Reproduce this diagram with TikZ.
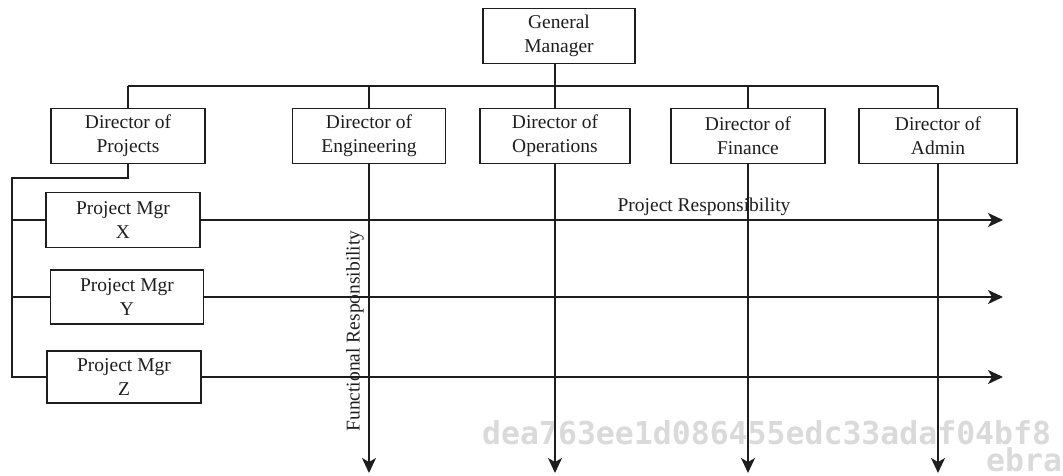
\documentclass[tikz,border=0pt]{standalone}
\usepackage{fontspec}
\setmainfont{Liberation Serif}
\newfontfamily\markfont{DejaVu Sans Mono Bold}
\usetikzlibrary{arrows.meta}
\definecolor{ink}{HTML}{1E1E1E}
\definecolor{faint}{HTML}{DADADA}
\tikzset{
  orgbox/.style={draw=ink, line width=1.9pt, fill=white, align=center,
    text=ink, font=\fontsize{19.5}{24}\selectfont, inner sep=2pt},
  link/.style={draw=ink, line width=1.9pt},
  flow/.style={draw=ink, line width=1.9pt, -{Stealth[length=15pt,width=14pt,inset=4pt]}},
  duty/.style={draw=ink, line width=1.5pt, -{Stealth[length=15pt,width=14pt,inset=4pt]}},
  caption/.style={text=ink, font=\fontsize{19.5}{24}\selectfont, inner sep=0pt},
  stamp/.style={anchor=base west, text=faint, inner sep=0pt,
    text height=23pt, text depth=0pt,
    font=\markfont\fontsize{31.5}{32}\selectfont},
}
\begin{document}
\begin{tikzpicture}[x=1pt, y=-1pt]
\useasboundingbox (0,0) rectangle (1063,476);
\clip (0,0) rectangle (1063,476);

% faint stamp behind the chart
\node[stamp] (stampa) at (482,444) {dea763ee1d086455edc33adaf04bf8};
\node[stamp] (stampb) at (986,471) {ebra};

% top of the hierarchy
\node[orgbox, minimum width=152pt, minimum height=55pt] (gm) at (559,36) {General\\Manager};

% directors
\node[orgbox, minimum width=154pt, minimum height=55pt] (dp) at (128,136) {Director of\\Projects};
\node[orgbox, minimum width=153pt, minimum height=55pt] (de) at (369,136) {Director of\\Engineering};
\node[orgbox, minimum width=150pt, minimum height=55pt] (do) at (555,136) {Director of\\Operations};
\node[orgbox, minimum width=154pt, minimum height=55pt] (df) at (748,136) {Director of\\Finance};
\node[orgbox, minimum width=158pt, minimum height=55pt] (da) at (938,136) {Director of\\Admin};

% reporting bus
\coordinate (bus) at (555,86);
\draw[link] (gm.south -| bus) -- (bus);
\draw[link] (dp.north |- bus) -- (da.north |- bus);
\foreach \d in {dp,de,do,df,da}
  \draw[link] (\d.north) -- (\d.north |- bus);

% project managers
\node[orgbox, minimum width=154pt, minimum height=55pt] (pmx) at (123,220) {Project Mgr\\X};
\node[orgbox, minimum width=153pt, minimum height=54pt] (pmy) at (127,297) {Project Mgr\\Y};
\node[orgbox, minimum width=154pt, minimum height=52pt] (pmz) at (124,377) {Project Mgr\\Z};

% Director of Projects feeds the project managers
\coordinate (rail) at (12,178);
\draw[link] (dp.south) -- (dp.south |- rail) -- (rail) -- (rail |- pmz.west) -- (pmz.west);
\draw[link] (rail |- pmx.west) -- (pmx.west);
\draw[link] (rail |- pmy.west) -- (pmy.west);

% functional responsibility (downwards)
\coordinate (floor) at (0,473);
\foreach \d in {de,do,df,da}
  \draw[duty] (\d.south) -- (\d.south |- floor);

% project responsibility (rightwards)
\coordinate (edge) at (1003,0);
\foreach \p in {pmx,pmy,pmz}
  \draw[flow] (\p.east) -- (\p.east -| edge);

% axis captions
\node[caption] (projresp) at (704,207) {Project Responsibility};
\node[caption, rotate=90] (funcresp) at (355,331) {Functional Responsibility};
\end{tikzpicture}
\end{document}
